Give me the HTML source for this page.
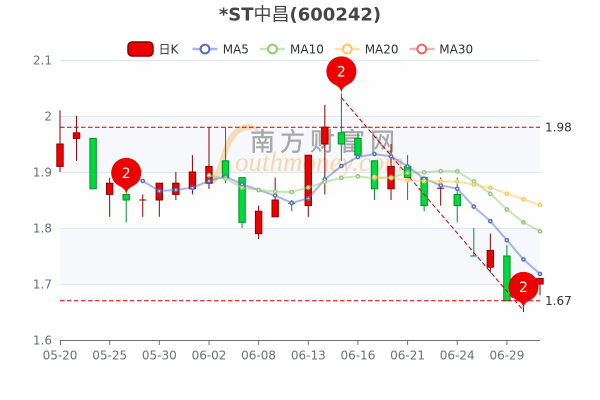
<!DOCTYPE html>
<html>
<head>
<meta charset="utf-8">
<style>
html,body{margin:0;padding:0;background:#fff;}
svg{display:block;}
</style>
</head>
<body>
<svg width="600" height="400" viewBox="0 0 600 400" xmlns="http://www.w3.org/2000/svg" font-family="'DejaVu Sans','Noto Sans CJK SC',sans-serif">
<rect x="0" y="0" width="600" height="400" fill="#ffffff"/>

<!-- Title -->
<text x="300" y="20.5" text-anchor="middle" font-size="18" font-weight="bold" fill="#464646">*ST<tspan font-weight="normal">中昌</tspan>(600242)</text>

<!-- Legend -->
<rect x="128" y="42" width="25" height="14" rx="4" ry="4" fill="#ec0000" stroke="#8a0000" stroke-width="1.5"/>
<text x="158.5" y="53.4" font-size="12" fill="#333">日K</text>

<line x1="192.5" y1="49" x2="217.5" y2="49" stroke="#5470c6" stroke-opacity="0.5" stroke-width="2.5"/>
<circle cx="205" cy="49" r="4.4" fill="#fff" stroke="#5470c6" stroke-width="2"/>
<text x="222.7" y="53.4" font-size="12" fill="#333">MA5</text>

<line x1="260" y1="49" x2="285" y2="49" stroke="#91cc75" stroke-opacity="0.5" stroke-width="2.5"/>
<circle cx="272.5" cy="49" r="4.4" fill="#fff" stroke="#91cc75" stroke-width="2"/>
<text x="290" y="53.4" font-size="12" fill="#333">MA10</text>

<line x1="334.8" y1="49" x2="359.8" y2="49" stroke="#fac858" stroke-opacity="0.5" stroke-width="2.5"/>
<circle cx="347.2" cy="49" r="4.4" fill="#fff" stroke="#fac858" stroke-width="2"/>
<text x="364.7" y="53.4" font-size="12" fill="#333">MA20</text>

<line x1="409.4" y1="49" x2="434.4" y2="49" stroke="#ee6666" stroke-opacity="0.5" stroke-width="2.5"/>
<circle cx="421.8" cy="49" r="4.4" fill="#fff" stroke="#ee6666" stroke-width="2"/>
<text x="439.3" y="53.4" font-size="12" fill="#333">MA30</text>

<!-- split areas -->
<rect x="60" y="60" width="480" height="56" fill="#fefefe"/>
<rect x="60" y="116" width="480" height="56" fill="#f6f8fc"/>
<rect x="60" y="172" width="480" height="56" fill="#fefefe"/>
<rect x="60" y="228" width="480" height="56" fill="#f6f8fc"/>
<rect x="60" y="284" width="480" height="56" fill="#fefefe"/>

<!-- grid lines -->
<g stroke="#e0e6f1" stroke-width="1">
<line x1="60" y1="60.5" x2="540" y2="60.5"/>
<line x1="60" y1="116.5" x2="540" y2="116.5"/>
<line x1="60" y1="172.5" x2="540" y2="172.5"/>
<line x1="60" y1="228.5" x2="540" y2="228.5"/>
<line x1="60" y1="284.5" x2="540" y2="284.5"/>
</g>

<!-- y labels -->
<g font-size="12" fill="#6e7079" text-anchor="end">
<text x="52" y="64.3">2.1</text>
<text x="52" y="120.3">2</text>
<text x="52" y="176.3">1.9</text>
<text x="52" y="232.3">1.8</text>
<text x="52" y="288.3">1.7</text>
<text x="52" y="344.3">1.6</text>
</g>

<!-- watermark -->
<path d="M213 181 C222 170 224 150 230 140 C235 131 242 127 250 127" fill="none" stroke="#f6d6ad" stroke-width="6" stroke-linecap="round" opacity="0.85"/>
<path d="M250 127 C254 127 257 129 258 132" fill="none" stroke="#f6d6ad" stroke-width="3" stroke-linecap="round" opacity="0.8"/>
<text x="250" y="150.5" font-size="25" letter-spacing="5" fill="#a9a9a9" stroke="#a9a9a9" stroke-width="0.4" font-family="'Noto Sans CJK SC','WenQuanYi Zen Hei',sans-serif">南方财富网</text>
<text x="235" y="171" font-size="27" font-style="italic" fill="#f6d3a6" font-family="'Liberation Serif','DejaVu Serif',serif" opacity="0.9">outhmoney.com</text>

<!-- x axis -->
<line x1="60" y1="340.5" x2="540" y2="340.5" stroke="#6e7079" stroke-width="1"/>
<g stroke="#6e7079" stroke-width="1">
<line x1="60.5" y1="340.5" x2="60.5" y2="345"/>
<line x1="109.7" y1="340.5" x2="109.7" y2="345"/>
<line x1="159.3" y1="340.5" x2="159.3" y2="345"/>
<line x1="209" y1="340.5" x2="209" y2="345"/>
<line x1="258.6" y1="340.5" x2="258.6" y2="345"/>
<line x1="308.3" y1="340.5" x2="308.3" y2="345"/>
<line x1="357.9" y1="340.5" x2="357.9" y2="345"/>
<line x1="407.6" y1="340.5" x2="407.6" y2="345"/>
<line x1="457.2" y1="340.5" x2="457.2" y2="345"/>
<line x1="506.9" y1="340.5" x2="506.9" y2="345"/>
</g>
<g font-size="12" fill="#6e7079" text-anchor="middle">
<text x="60" y="359.5">05-20</text>
<text x="109.7" y="359.5">05-25</text>
<text x="159.3" y="359.5">05-30</text>
<text x="209" y="359.5">06-02</text>
<text x="258.6" y="359.5">06-08</text>
<text x="308.3" y="359.5">06-13</text>
<text x="357.9" y="359.5">06-16</text>
<text x="407.6" y="359.5">06-21</text>
<text x="457.2" y="359.5">06-24</text>
<text x="506.9" y="359.5">06-29</text>
</g>

<!-- candles: wicks -->
<g stroke-width="1">
<line x1="60" y1="110.4" x2="60" y2="172" stroke="#8a0000"/>
<line x1="76.55" y1="116" x2="76.55" y2="160.8" stroke="#8a0000"/>
<line x1="93.1" y1="138.4" x2="93.1" y2="188.8" stroke="#008f28"/>
<line x1="109.66" y1="177.6" x2="109.66" y2="216.8" stroke="#8a0000"/>
<line x1="126.21" y1="194.4" x2="126.21" y2="222.4" stroke="#008f28"/>
<line x1="142.76" y1="194.4" x2="142.76" y2="216.8" stroke="#8a0000"/>
<line x1="159.31" y1="183.2" x2="159.31" y2="216.8" stroke="#8a0000"/>
<line x1="175.86" y1="172" x2="175.86" y2="200" stroke="#8a0000"/>
<line x1="192.41" y1="155.2" x2="192.41" y2="194.4" stroke="#8a0000"/>
<line x1="208.97" y1="127.2" x2="208.97" y2="188.8" stroke="#8a0000"/>
<line x1="225.52" y1="127.2" x2="225.52" y2="183.2" stroke="#008f28"/>
<line x1="242.07" y1="177.6" x2="242.07" y2="228" stroke="#008f28"/>
<line x1="258.62" y1="205.6" x2="258.62" y2="239.2" stroke="#8a0000"/>
<line x1="275.17" y1="177.6" x2="275.17" y2="216.8" stroke="#8a0000"/>
<line x1="291.72" y1="200" x2="291.72" y2="211.2" stroke="#008f28"/>
<line x1="308.28" y1="155.2" x2="308.28" y2="216.8" stroke="#8a0000"/>
<line x1="324.83" y1="104.8" x2="324.83" y2="194.4" stroke="#8a0000"/>
<line x1="341.38" y1="93.6" x2="341.38" y2="160.8" stroke="#008f28"/>
<line x1="357.93" y1="132.8" x2="357.93" y2="155.2" stroke="#008f28"/>
<line x1="374.48" y1="160.8" x2="374.48" y2="200" stroke="#008f28"/>
<line x1="391.03" y1="144" x2="391.03" y2="200" stroke="#8a0000"/>
<line x1="407.59" y1="155.2" x2="407.59" y2="200" stroke="#008f28"/>
<line x1="424.14" y1="177.6" x2="424.14" y2="211.2" stroke="#008f28"/>
<line x1="440.69" y1="177.6" x2="440.69" y2="205.6" stroke="#8a0000"/>
<line x1="457.24" y1="177.6" x2="457.24" y2="222.4" stroke="#008f28"/>
<line x1="473.79" y1="228" x2="473.79" y2="256" stroke="#008f28"/>
<line x1="490.34" y1="233.6" x2="490.34" y2="272.8" stroke="#8a0000"/>
<line x1="506.9" y1="244.8" x2="506.9" y2="300.8" stroke="#008f28"/>
<line x1="523.45" y1="278.4" x2="523.45" y2="312" stroke="#8a0000"/>
<line x1="540" y1="278.4" x2="540" y2="295.2" stroke="#8a0000"/>
</g>
<!-- candles: bodies -->
<g stroke-width="1">
<rect x="56.8" y="144" width="6.4" height="22.4" fill="#ec0000" stroke="#8a0000"/>
<rect x="73.35" y="132.8" width="6.4" height="5.6" fill="#ec0000" stroke="#8a0000"/>
<rect x="89.9" y="138.4" width="6.4" height="50.4" fill="#00da3c" stroke="#008f28"/>
<rect x="106.46" y="183.2" width="6.4" height="11.2" fill="#ec0000" stroke="#8a0000"/>
<rect x="123.01" y="194.4" width="6.4" height="5.6" fill="#00da3c" stroke="#008f28"/>
<line x1="139.16" y1="200" x2="146.36" y2="200" stroke="#8a0000"/>
<rect x="156.11" y="183.2" width="6.4" height="16.8" fill="#ec0000" stroke="#8a0000"/>
<rect x="172.66" y="183.2" width="6.4" height="11.2" fill="#ec0000" stroke="#8a0000"/>
<rect x="189.21" y="172" width="6.4" height="16.8" fill="#ec0000" stroke="#8a0000"/>
<rect x="205.77" y="166.4" width="6.4" height="16.8" fill="#ec0000" stroke="#8a0000"/>
<rect x="222.32" y="160.8" width="6.4" height="16.8" fill="#00da3c" stroke="#008f28"/>
<rect x="238.87" y="177.6" width="6.4" height="44.8" fill="#00da3c" stroke="#008f28"/>
<rect x="255.42" y="211.2" width="6.4" height="22.4" fill="#ec0000" stroke="#8a0000"/>
<rect x="271.97" y="200" width="6.4" height="16.8" fill="#ec0000" stroke="#8a0000"/>
<line x1="288.12" y1="203.4" x2="295.32" y2="203.4" stroke="#008f28"/>
<rect x="305.08" y="155.2" width="6.4" height="50.4" fill="#ec0000" stroke="#8a0000"/>
<rect x="321.63" y="127.2" width="6.4" height="16.8" fill="#ec0000" stroke="#8a0000"/>
<rect x="338.18" y="132.8" width="6.4" height="11.2" fill="#00da3c" stroke="#008f28"/>
<rect x="354.73" y="138.4" width="6.4" height="16.8" fill="#00da3c" stroke="#008f28"/>
<rect x="371.28" y="160.8" width="6.4" height="28" fill="#00da3c" stroke="#008f28"/>
<rect x="387.83" y="166.4" width="6.4" height="22.4" fill="#ec0000" stroke="#8a0000"/>
<rect x="404.39" y="166.4" width="6.4" height="11.2" fill="#00da3c" stroke="#008f28"/>
<rect x="420.94" y="177.6" width="6.4" height="28" fill="#00da3c" stroke="#008f28"/>
<line x1="437.09" y1="188.24" x2="444.29" y2="188.24" stroke="#8a0000"/>
<rect x="454.04" y="194.4" width="6.4" height="11.2" fill="#00da3c" stroke="#008f28"/>
<line x1="470.19" y1="256" x2="477.39" y2="256" stroke="#008f28"/>
<rect x="487.14" y="250.4" width="6.4" height="16.8" fill="#ec0000" stroke="#8a0000"/>
<rect x="503.7" y="256" width="6.4" height="44.8" fill="#00da3c" stroke="#008f28"/>
<rect x="520.25" y="284" width="6.4" height="11.2" fill="#ec0000" stroke="#8a0000"/>
<rect x="536.8" y="278.4" width="6.4" height="5.6" fill="#ec0000" stroke="#8a0000"/>
</g>

<!-- mark lines -->
<g stroke="#cc0000" stroke-width="1" stroke-dasharray="4.5 2.5" fill="none">
<line x1="60" y1="127.2" x2="540" y2="127.2"/>
<line x1="60" y1="300.8" x2="540" y2="300.8"/>
<line x1="341.38" y1="97.6" x2="523.45" y2="310.6"/>
</g>
<g font-size="12" fill="#333">
<text x="545" y="131.5">1.98</text>
<text x="545" y="305.1">1.67</text>
</g>

<!-- MA5 -->
<polyline fill="none" stroke="#5470c6" stroke-opacity="0.5" stroke-width="2" stroke-linejoin="round"
points="126.21,169.8 142.76,180.96 159.31,191.04 175.86,189.92 192.41,187.68 208.97,180.96 225.52,176.48 242.07,184.32 258.62,189.92 275.17,195.52 291.72,202.91 308.28,198.43 324.83,179.39 341.38,165.95 357.93,156.99 374.48,154.08 391.03,156.32 407.59,166.4 424.14,178.72 440.69,185.33 457.24,188.69 473.79,206.61 490.34,221.17 506.9,240.21 523.45,259.36 540,273.92"/>
<g fill="#fff" stroke="#5470c6" stroke-width="1.5">
<circle cx="126.21" cy="169.8" r="1.6"/><circle cx="142.76" cy="180.96" r="1.6"/><circle cx="159.31" cy="191.04" r="1.6"/><circle cx="175.86" cy="189.92" r="1.6"/><circle cx="192.41" cy="187.68" r="1.6"/><circle cx="208.97" cy="180.96" r="1.6"/><circle cx="225.52" cy="176.48" r="1.6"/><circle cx="242.07" cy="184.32" r="1.6"/><circle cx="258.62" cy="189.92" r="1.6"/><circle cx="275.17" cy="195.52" r="1.6"/><circle cx="291.72" cy="202.91" r="1.6"/><circle cx="308.28" cy="198.43" r="1.6"/><circle cx="324.83" cy="179.39" r="1.6"/><circle cx="341.38" cy="165.95" r="1.6"/><circle cx="357.93" cy="156.99" r="1.6"/><circle cx="374.48" cy="154.08" r="1.6"/><circle cx="391.03" cy="156.32" r="1.6"/><circle cx="407.59" cy="166.4" r="1.6"/><circle cx="424.14" cy="178.72" r="1.6"/><circle cx="440.69" cy="185.33" r="1.6"/><circle cx="457.24" cy="188.69" r="1.6"/><circle cx="473.79" cy="206.61" r="1.6"/><circle cx="490.34" cy="221.17" r="1.6"/><circle cx="506.9" cy="240.21" r="1.6"/><circle cx="523.45" cy="259.36" r="1.6"/><circle cx="540" cy="273.92" r="1.6"/>
</g>

<!-- MA10 -->
<polyline fill="none" stroke="#91cc75" stroke-opacity="0.5" stroke-width="2" stroke-linejoin="round"
points="208.97,175.36 225.52,178.72 242.07,187.68 258.62,189.92 275.17,191.6 291.72,191.94 308.28,187.49 324.83,181.89 341.38,177.99 357.93,176.31 374.48,178.5 391.03,177.38 407.59,172.9 424.14,172.34 440.69,171.16 457.24,171.38 473.79,181.46 490.34,193.78 506.9,209.46 523.45,222.34 540,231.3"/>
<g fill="#fff" stroke="#91cc75" stroke-width="1.5">
<circle cx="208.97" cy="175.36" r="1.6"/><circle cx="225.52" cy="178.72" r="1.6"/><circle cx="242.07" cy="187.68" r="1.6"/><circle cx="258.62" cy="189.92" r="1.6"/><circle cx="275.17" cy="191.6" r="1.6"/><circle cx="291.72" cy="191.94" r="1.6"/><circle cx="308.28" cy="187.49" r="1.6"/><circle cx="324.83" cy="181.89" r="1.6"/><circle cx="341.38" cy="177.99" r="1.6"/><circle cx="357.93" cy="176.31" r="1.6"/><circle cx="374.48" cy="178.5" r="1.6"/><circle cx="391.03" cy="177.38" r="1.6"/><circle cx="407.59" cy="172.9" r="1.6"/><circle cx="424.14" cy="172.34" r="1.6"/><circle cx="440.69" cy="171.16" r="1.6"/><circle cx="457.24" cy="171.38" r="1.6"/><circle cx="473.79" cy="181.46" r="1.6"/><circle cx="490.34" cy="193.78" r="1.6"/><circle cx="506.9" cy="209.46" r="1.6"/><circle cx="523.45" cy="222.34" r="1.6"/><circle cx="540" cy="231.3" r="1.6"/>
</g>

<!-- MA20 -->
<polyline fill="none" stroke="#fac858" stroke-opacity="0.5" stroke-width="2" stroke-linejoin="round"
points="374.48,176.93 391.03,178.05 407.59,180.29 424.14,181.13 440.69,181.38 457.24,181.66 473.79,184.46 490.34,187.82 506.9,193.7 523.45,199.3 540,204.9"/>
<g fill="#fff" stroke="#fac858" stroke-width="1.5">
<circle cx="374.48" cy="176.93" r="1.6"/><circle cx="391.03" cy="178.05" r="1.6"/><circle cx="407.59" cy="180.29" r="1.6"/><circle cx="424.14" cy="181.13" r="1.6"/><circle cx="440.69" cy="181.38" r="1.6"/><circle cx="457.24" cy="181.66" r="1.6"/><circle cx="473.79" cy="184.46" r="1.6"/><circle cx="490.34" cy="187.82" r="1.6"/><circle cx="506.9" cy="193.7" r="1.6"/><circle cx="523.45" cy="199.3" r="1.6"/><circle cx="540" cy="204.9" r="1.6"/>
</g>

<!-- mark points (pins) -->
<g transform="translate(126.21,196)">
<path d="M-13.05 -15.74 A15 15 0 1 1 13.05 -15.74 C8.62 -7.91 0 -10.5 0 0 C0 -10.5 -8.62 -7.91 -13.05 -15.74 Z" fill="#ec0000"/>
<text x="0" y="-18" text-anchor="middle" font-size="14" fill="#fff">2</text>
</g>
<g transform="translate(341.38,94.5)">
<path d="M-13.05 -15.74 A15 15 0 1 1 13.05 -15.74 C8.62 -7.91 0 -10.5 0 0 C0 -10.5 -8.62 -7.91 -13.05 -15.74 Z" fill="#ec0000"/>
<text x="0" y="-18" text-anchor="middle" font-size="14" fill="#fff">2</text>
</g>
<g transform="translate(523.45,310)">
<path d="M-13.05 -15.74 A15 15 0 1 1 13.05 -15.74 C8.62 -7.91 0 -10.5 0 0 C0 -10.5 -8.62 -7.91 -13.05 -15.74 Z" fill="#ec0000"/>
<text x="0" y="-18" text-anchor="middle" font-size="14" fill="#fff">2</text>
</g>
</svg>
</body>
</html>
